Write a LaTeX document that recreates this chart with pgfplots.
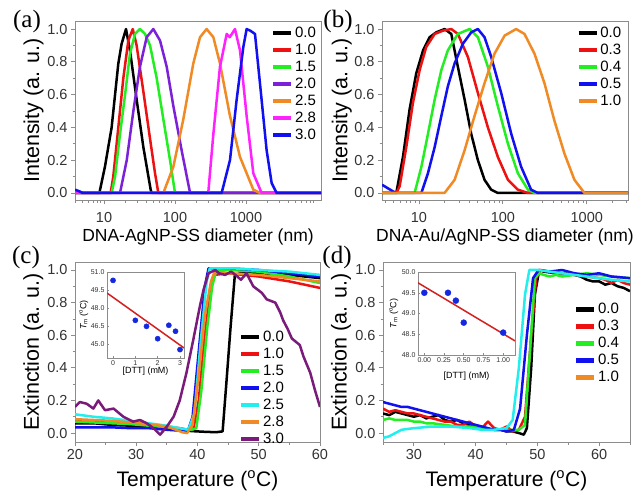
\documentclass[border=0pt]{standalone}
\usepackage{fontspec}
\setmainfont{Liberation Sans}
\newfontfamily\seriffont{Liberation Serif}
\usepackage{pgfplots}
\pgfplotsset{compat=1.18}

\definecolor{axgray}{HTML}{8C8C8C}
\definecolor{tickgray}{HTML}{333333}
\definecolor{cred}{HTML}{EE1111}
\definecolor{cgreen}{HTML}{22EE22}
\definecolor{cviolet}{HTML}{7B22D8}
\definecolor{corange}{HTML}{F08A24}
\definecolor{cmagenta}{HTML}{FF22FF}
\definecolor{cblue}{HTML}{1010F0}
\definecolor{cpurple}{HTML}{7A1A7A}
\definecolor{ccyan}{HTML}{22EEEE}
\definecolor{dotblue}{HTML}{1428E0}
\definecolor{fitred}{HTML}{D42020}

\newcommand\fs[1]{\fontsize{#1}{#1}\selectfont}

\pgfplotsset{
  panel/.style={
    scale only axis,
    axis background/.style={fill=white},
    axis line style={draw=axgray, line width=0.9pt},
    tick style={draw=axgray, line width=0.8pt},
    tick align=outside, xtick pos=lower, ytick pos=left,
    major tick length=4pt, minor tick length=2.5pt,
    tick label style={font=\fs{14.5}, text=tickgray},
    /pgf/number format/assume math mode=true,
    legend cell align=left,
    legend image code/.code={\draw[##1, line width=4.5pt] (0pt,0pt) -- (18pt,0pt);},
    legend style={draw=none, fill=none, inner sep=0pt, anchor=north west, row sep=1pt,
      nodes={inner sep=1.5pt, text height=11pt, text depth=2pt, font=\fs{15}}},
    every axis plot/.append style={line width=2.5pt, line join=round, no marks},
  },
  intpanel/.style={panel,
    ymin=-0.043, ymax=1.049,
    ytick={0,0.2,0.4,0.6,0.8,1.0}, minor y tick num=1,
    yticklabel style={/pgf/number format/.cd, fixed, fixed zerofill, precision=1},
    log ticks with fixed point,
    xticklabel style={yshift=-5pt, /pgf/number format/1000 sep={}},
    minor xtick={4,5,6,7,8,9,20,30,40,50,60,70,80,90,200,300,400,500,600,700,800,900,2000,3000,4000,5000,6000,7000,8000,9000},
    xlabel style={at={(axis description cs:0.5,-0.205)}, anchor=center, font=\fs{17.5}},
    ylabel style={at={(axis description cs:-0.168,0.5)}, anchor=center, font=\fs{21.5}},
    ylabel={Intensity (a. u.)},
  },
  extpanel/.style={panel,
    ymin=-0.055, ymax=1.049,
    ytick={0,0.2,0.4,0.6,0.8,1.0}, minor y tick num=1,
    yticklabel style={/pgf/number format/.cd, fixed, fixed zerofill, precision=1},
    xlabel style={at={(axis description cs:0.5,-0.215)}, anchor=center, font=\fs{21}},
    ylabel style={at={(axis description cs:-0.17,0.5)}, anchor=center, font=\fs{21.5}},
    ylabel={Extinction (a. u.)},
    xlabel={Temperature (\textsuperscript{o}C)},
  },
  inset/.style={scale only axis,
    axis background/.style={fill=white},
    axis line style={draw=axgray, line width=0.7pt},
    tick style={draw=axgray, line width=0.5pt},
    tick align=inside, major tick length=2pt, xtick pos=lower, ytick pos=left,
    tick label style={font=\fs{7}, text=tickgray},
    /pgf/number format/assume math mode=true,
    xticklabel style={yshift=1pt},
    yticklabel style={xshift=1pt},
    xlabel style={font=\fs{9}, anchor=center},
    ylabel style={font=\fs{9}, anchor=center},
    ylabel={{\itshape T}\textsubscript{m} (\textsuperscript{o}C)},
    xlabel={[DTT] (mM)},
  },
}

\begin{document}
\begin{tikzpicture}
\path[use as bounding box] (0pt,0pt) rectangle (634pt,-490pt);

% (a)
\begin{axis}[xmode=log, intpanel, at={(75pt,-21pt)}, anchor=north west, width=246pt, height=179pt,
  xmin=3.9, xmax=11400, xtick={10,100,1000}, xlabel={DNA-AgNP-SS diameter (nm)},
  legend style={at={(axis description cs:0.796,0.978)}}]
\addplot[black] coordinates {(3.9,0) (8.6,0) (10.3,0.16) (12.8,0.4) (15.9,0.79) (17.7,0.91) (20.4,1.0) (23.2,0.87) (28.8,0.57) (35.8,0.28) (45.4,0.02) (47,0) (11400,0)};
\addlegendentry{0.0}
\addplot[cred] coordinates {(3.9,0) (12.4,0) (13.5,0.1) (15.9,0.4) (18.7,0.7) (22,0.93) (25.4,1.0) (28.8,0.9) (35.8,0.62) (44.5,0.33) (52.3,0.12) (58.2,0) (11400,0)};
\addlegendentry{1.0}
\addplot[cgreen] coordinates {(3.9,0) (12.8,0) (14.3,0.1) (16.8,0.36) (19.8,0.6) (23.2,0.85) (27.3,0.97) (32.1,1.0) (37.8,0.97) (44.5,0.9) (55.2,0.7) (68.5,0.45) (85.1,0.2) (100,0) (11400,0)};
\addlegendentry{1.5}
\addplot[cviolet] coordinates {(3.9,0) (16.8,0) (20.9,0.2) (25.9,0.5) (32.1,0.77) (39.9,0.95) (49.5,1.0) (61.5,0.93) (76.4,0.77) (94.8,0.53) (124,0.26) (163,0) (11400,0)};
\addlegendentry{2.0}
\addplot[corange] coordinates {(3.9,0) (68.5,0) (94.8,0.16) (131,0.45) (181,0.79) (225,0.95) (279,1.0) (347,0.95) (430,0.79) (595,0.47) (823,0.22) (1268,0.02) (1573,0) (11400,0)};
\addlegendentry{2.5}
\addplot[cmagenta] coordinates {(3.9,0) (294,0) (347,0.36) (430,0.77) (535,0.97) (590,0.95) (700,1.0) (823,0.87) (1021,0.47) (1268,0.12) (1660,0) (11400,0)};
\addlegendentry{2.8}
\addplot[cblue] coordinates {(3.9,0.02) (4.5,0.01) (5,0) (454,0) (595,0.2) (739,0.57) (917,0.89) (1021,1.0) (1150,0.99) (1339,0.97) (1573,0.67) (1954,0.26) (2300,0.06) (2700,0) (11400,0)};
\addlegendentry{3.0}
\end{axis}

% (b)
\begin{axis}[xmode=log, intpanel, at={(382pt,-21pt)}, anchor=north west, width=246pt, height=179pt,
  xmin=3.63, xmax=3100, xtick={10,100}, extra x ticks={1000}, extra x tick labels={1000},
  xlabel={DNA-Au/AgNP-SS diameter (nm)},
  ylabel style={at={(axis description cs:-0.163,0.5)}},
  legend style={at={(axis description cs:0.789,0.978)}}]
\addplot[black] coordinates {(3.63,0) (5.37,0) (6.45,0.22) (7.74,0.51) (9.29,0.73) (11.2,0.87) (13.4,0.95) (16.1,0.98) (20.2,1.0) (24.3,0.97) (29.1,0.77) (35.0,0.57) (42.0,0.36) (50.4,0.2) (60.5,0.08) (72.6,0.02) (87.1,0) (3100,0)};
\addlegendentry{0.0}
\addplot[cred] coordinates {(3.63,0) (5.37,0) (5.89,0.04) (7.07,0.28) (8.48,0.55) (10.2,0.75) (12.2,0.89) (15.4,0.97) (19.3,0.99) (24.3,1.0) (29.1,0.97) (38.3,0.83) (50.4,0.61) (66.3,0.4) (87.1,0.22) (115,0.08) (151,0.02) (199,0) (3100,0)};
\addlegendentry{0.3}
\addplot[cgreen] coordinates {(3.63,0) (8.88,0) (10.7,0.16) (12.8,0.36) (15.4,0.57) (18.5,0.75) (22.1,0.87) (29.1,0.97) (40.1,1.0) (50.4,0.95) (66.3,0.77) (87.1,0.53) (115,0.30) (151,0.12) (199,0.02) (238,0) (3100,0)};
\addlegendentry{0.4}
\addplot[cblue] coordinates {(3.63,0.05) (4.9,0.01) (5.4,0) (10.7,0) (12.8,0.12) (15.4,0.28) (18.5,0.47) (22.1,0.65) (26.6,0.79) (33.4,0.91) (42.0,0.98) (50.4,1.0) (60.5,0.95) (72.6,0.83) (95.5,0.61) (126,0.36) (165,0.16) (217,0.02) (261,0) (3100,0)};
\addlegendentry{0.5}
\addplot[corange] coordinates {(3.63,0) (20.2,0) (26.6,0.08) (35,0.26) (46,0.47) (60.5,0.67) (79.6,0.85) (105,0.96) (144,1.0) (181,0.97) (238,0.85) (313,0.67) (412,0.44) (542,0.24) (713,0.08) (938,0) (3100,0)};
\addlegendentry{1.0}
\end{axis}

% (c)
\begin{axis}[extpanel, at={(75pt,-262pt)}, anchor=north west, width=245pt, height=180pt,
  xmin=20, xmax=60, xtick={20,30,40,50,60}, minor x tick num=1,
  legend style={at={(axis description cs:0.669,0.628)}}]
\addplot[black] coordinates {(20,0.06) (23,0.06) (26,0.05) (29,0.045) (32,0.04) (35,0.03) (37,0.02) (39,0.012) (41,0.008) (43,0.005) (44.1,0.01) (44.7,0.3) (45.4,0.65) (46.1,0.97) (48,0.99) (50,0.98) (55,0.97) (60,0.95)};
\addlegendentry{0.0}
\addplot[cred] coordinates {(20,0.075) (23,0.07) (26,0.065) (29,0.06) (32,0.05) (35,0.04) (37,0.03) (38.5,0.02) (39.3,0.02) (40.2,0.2) (41.2,0.6) (42.2,0.9) (42.8,0.97) (45,0.98) (50,0.96) (55,0.93) (60,0.89)};
\addlegendentry{1.0}
\addplot[cgreen] coordinates {(20,0.07) (23,0.065) (26,0.06) (29,0.055) (32,0.045) (35,0.035) (37,0.025) (39,0.02) (39.8,0.03) (40.6,0.25) (41.6,0.65) (42.4,0.9) (43,0.99) (45,1.0) (50,0.99) (55,0.96) (60,0.92)};
\addlegendentry{1.5}
\addplot[cblue] coordinates {(20,0.035) (23,0.035) (26,0.035) (29,0.03) (32,0.03) (35,0.02) (37,0.015) (38.5,0.02) (39.2,0.1) (40.2,0.5) (41.2,0.9) (41.8,1.01) (45,1.01) (50,1.0) (55,0.98) (60,0.96)};
\addlegendentry{2.0}
\addplot[ccyan] coordinates {(20,0.115) (23,0.1) (26,0.09) (29,0.075) (32,0.06) (35,0.045) (37,0.03) (38.5,0.02) (39.5,0.12) (40.5,0.55) (41.5,0.93) (42,1.01) (46,1.01) (50,1.0) (55,0.99) (60,0.97)};
\addlegendentry{2.5}
\addplot[corange] coordinates {(20,0.085) (23,0.08) (26,0.075) (29,0.065) (32,0.055) (35,0.04) (36.5,0.02) (37.5,0.005) (38.3,0.0) (39.2,0.05) (40.2,0.35) (41.2,0.72) (42.2,0.93) (42.8,0.99) (45,0.98) (50,0.97) (55,0.95) (60,0.93)};
\addlegendentry{2.8}
\addplot[cpurple] coordinates {(20,0.16) (20.8,0.19) (21.9,0.18) (23.0,0.15) (23.8,0.2) (24.9,0.14) (26.3,0.15) (27.9,0.1) (29.5,0.07) (30.6,0.08) (31.7,0.06) (32.8,0.03) (33.9,-0.01) (35.0,0.04) (36.1,0.1) (37.1,0.2) (38.2,0.37) (39.3,0.57) (40.4,0.78) (41.0,0.88) (41.8,0.98) (42.9,1.0) (43.5,0.98) (44.5,0.97) (45.5,0.99) (46.5,0.96) (47.1,0.94) (48.0,0.98) (49.1,0.90) (50.5,0.86) (51.3,0.82) (52.7,0.80) (53.5,0.74) (54.0,0.69) (54.7,0.64) (55.4,0.58) (56.7,0.54) (57.3,0.47) (58.4,0.37) (59.2,0.26) (60.0,0.16)};
\addlegendentry{3.0}
\end{axis}

% (c) inset
\begin{axis}[inset, at={(107pt,-272pt)}, anchor=north west, width=77pt, height=86pt,
  xmin=-0.27, xmax=3.18, ymin=43.83, ymax=51.0,
  xtick={0,1,2,3}, ytick={45.0,46.5,48.0,49.5,51.0},
  yticklabel style={/pgf/number format/.cd, fixed, fixed zerofill, precision=1},
  xlabel style={at={(axis description cs:0.5,-0.15)}},
  ylabel style={at={(axis description cs:-0.3,0.5)}}]
\addplot[fitred, line width=1.5pt] coordinates {(-0.27,49.25) (3.18,44.67)};
\addplot[only marks, mark=*, mark size=2.6pt, mark options={draw=dotblue, fill=dotblue}] coordinates {(0,50.3) (1,46.97) (1.5,46.47) (2,45.44) (2.5,46.56) (2.8,46.06) (3.0,44.53)};
\end{axis}

% (d)
\begin{axis}[extpanel, at={(383pt,-262pt)}, anchor=north west, width=247pt, height=180pt,
  xmin=25, xmax=65, xtick={30,40,50,60}, minor xtick={25,35,45,55,65},
  ylabel style={at={(axis description cs:-0.17,0.5)}},
  legend style={at={(axis description cs:0.773,0.783)}}]
\addplot[black] coordinates {(25,0.12) (26,0.11) (27,0.13) (28,0.12) (29,0.11) (30,0.10) (31,0.11) (32,0.09) (33,0.1) (34,0.11) (35,0.08) (36,0.07) (37,0.08) (38,0.06) (39,0.05) (40,0.04) (41,0.03) (42,0.025) (43,0.02) (44,0.02) (45,0.01) (46,0.01) (47,0.0) (47.8,-0.01) (48.3,0.03) (49,0.4) (49.6,0.85) (50.3,1.0) (51,0.99) (53,0.98) (55,0.98) (57,0.96) (58,0.94) (59,0.93) (60,0.93) (61,0.91) (62,0.92) (63,0.9) (64,0.89) (65,0.87)};
\addlegendentry{0.0}
\addplot[cred] coordinates {(25,0.15) (26,0.13) (27,0.14) (28,0.13) (29,0.12) (30,0.12) (31,0.11) (32,0.1) (33,0.09) (34,0.08) (35,0.07) (36,0.07) (37,0.05) (38,0.05) (39,0.07) (40,0.04) (41,0.03) (42,0.07) (43,0.03) (44,0.02) (45,0.04) (46,0.01) (47,0.02) (48,0.1) (49,0.6) (49.8,0.95) (50.5,1.0) (52,0.99) (54,0.98) (56,0.97) (58,0.96) (60,0.95) (61,0.94) (62,0.92) (63,0.94) (64,0.92) (65,0.91)};
\addlegendentry{0.3}
\addplot[cgreen] coordinates {(25,0.08) (26,0.09) (27,0.08) (28,0.08) (29,0.08) (30,0.07) (31,0.07) (32,0.06) (33,0.06) (35,0.05) (37,0.04) (39,0.04) (41,0.03) (43,0.02) (45,0.02) (47,0.02) (48,0.05) (48.8,0.5) (49.6,0.95) (50.3,0.98) (51,0.97) (52,0.96) (53,0.97) (54,0.96) (56,0.97) (58,0.98) (60,0.97) (62,0.96) (65,0.95)};
\addlegendentry{0.4}
\addplot[cblue] coordinates {(25,0.19) (26,0.18) (27,0.17) (28,0.16) (29,0.16) (30,0.15) (31,0.14) (32,0.13) (33,0.12) (34,0.11) (35,0.1) (36,0.09) (37,0.08) (38,0.07) (39,0.06) (40,0.05) (41,0.04) (42,0.03) (43,0.02) (44,0.02) (45,0.01) (46.2,0.02) (47.2,0.15) (48.3,0.6) (49.3,0.95) (50.2,1.0) (52,0.99) (54,1.0) (55,0.99) (56,0.98) (58,0.97) (60,0.98) (62,0.96) (65,0.95)};
\addlegendentry{0.5}
\addplot[ccyan, forget plot] coordinates {(25,-0.03) (26,-0.02) (27,0.0) (28,0.02) (30,0.03) (33,0.04) (36,0.04) (39,0.03) (41,0.02) (43,0.02) (45,0.03) (46,0.08) (47,0.4) (48,0.85) (48.7,1.0) (50,1.0) (52,0.99) (54,0.98) (56,0.97) (58,0.96) (60,0.95) (62,0.94) (65,0.93)};
\addlegendimage{corange}
\addlegendentry{1.0}
\end{axis}

% (d) inset
\begin{axis}[inset, at={(418pt,-272pt)}, anchor=north west, width=97pt, height=83pt,
  xmin=-0.08, xmax=1.15, ymin=48.0, ymax=50.0,
  xtick={0,0.25,0.5,0.75,1.0}, ytick={48.0,48.5,49.0,49.5,50.0},
  xticklabel style={/pgf/number format/.cd, fixed, fixed zerofill, precision=2},
  yticklabel style={/pgf/number format/.cd, fixed, fixed zerofill, precision=1},
  xlabel style={at={(axis description cs:0.5,-0.25)}},
  ylabel style={at={(axis description cs:-0.25,0.5)}}]
\addplot[fitred, line width=1.5pt] coordinates {(-0.08,49.74) (1.15,48.34)};
\addplot[only marks, mark=*, mark size=3pt, mark options={draw=dotblue, fill=dotblue}] coordinates {(0,49.5) (0.3,49.5) (0.4,49.31) (0.5,48.78) (1.0,48.54)};
\end{axis}

\node[font=\seriffont\fs{25}] at (27pt,-21pt) {(a)};
\node[font=\seriffont\fs{25}] at (338pt,-21pt) {(b)};
\node[font=\seriffont\fs{25}] at (26pt,-257pt) {(c)};
\node[font=\seriffont\fs{25}] at (337pt,-257pt) {(d)};
\end{tikzpicture}
\end{document}
